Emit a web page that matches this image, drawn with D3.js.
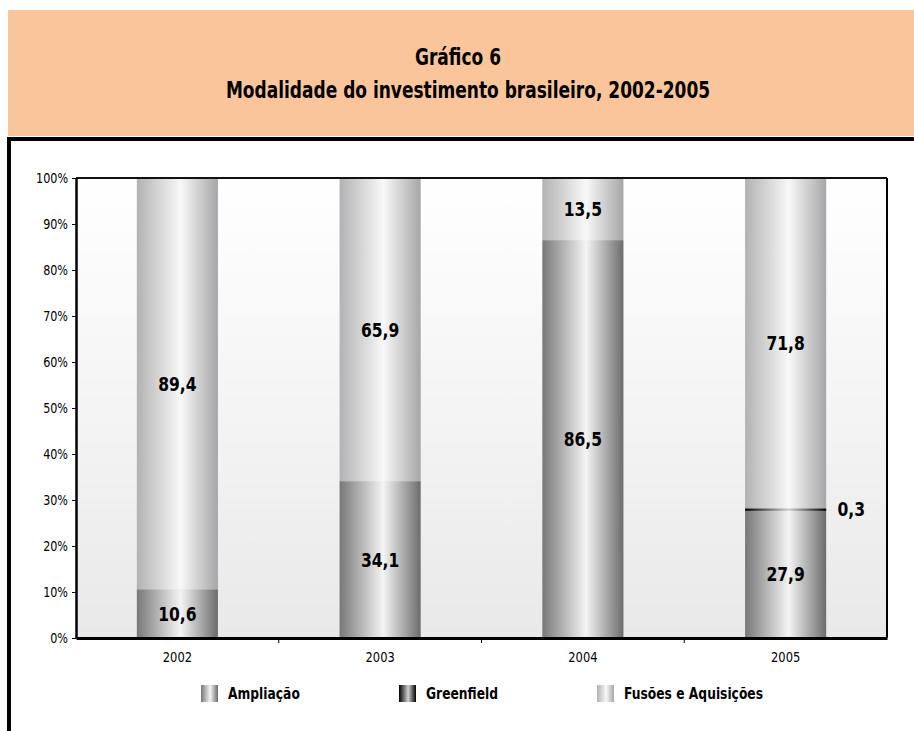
<!DOCTYPE html>
<html>
<head>
<meta charset="utf-8">
<script src="https://cdn.jsdelivr.net/npm/d3@7"></script>
<style>
  body { margin: 0; background: #fff; }
  svg { display: block; font-family: "DejaVu Sans", sans-serif; }
</style>
</head>
<body>
<div id="chart"></div>
<script>
// data
var years = ["2002", "2003", "2004", "2005"];
var seriesNames = ["Ampliação", "Greenfield", "Fusões e Aquisições"];
var ampliacao = [10.6, 34.1, 86.5, 27.9];
var greenfield = [0, 0, 0, 0.3];
var fusoes = [89.4, 65.9, 13.5, 71.8];
var yTicks = [0, 10, 20, 30, 40, 50, 60, 70, 80, 90, 100];

var W = 914, H = 731;
var margin = { top: 178, right: 27, bottom: 93, left: 76 },
    width = W - margin.left - margin.right,
    height = H - margin.top - margin.bottom;

var svg = d3.select("#chart").append("svg")
    .attr("width", W)
    .attr("height", H);

// narrow text: the original uses a condensed face, so squeeze horizontally
function narrowText(parent, px, py, sx, size, txt, anchor) {
    return parent.append("text")
        .attr("transform", "translate(" + px + "," + py + ") scale(" + sx + ",1)")
        .attr("text-anchor", anchor || "middle")
        .style("font-size", size + "px")
        .style("font-weight", "bold")
        .text(txt);
}

var defs = svg.append("defs");

// horizontal "cylinder" gradients for the bars
function barGradient(id, edgeL, mid, edgeR) {
    var g = defs.append("linearGradient").attr("id", id)
        .attr("x1", "0%").attr("x2", "100%").attr("y1", "0%").attr("y2", "0%");
    g.append("stop").attr("offset", "0%").attr("stop-color", edgeL);
    g.append("stop").attr("offset", "54%").attr("stop-color", mid);
    g.append("stop").attr("offset", "100%").attr("stop-color", edgeR);
}
barGradient("g-amp", "#787878", "#f4f4f4", "#6c6c6c");
barGradient("g-green", "#000000", "#d0d0d0", "#000000");
barGradient("g-fus", "#b2b2b4", "#f8f8f8", "#a6a6a8");
var fills = ["url(#g-amp)", "url(#g-green)", "url(#g-fus)"];

var bg = defs.append("linearGradient").attr("id", "g-bg")
    .attr("x1", "0%").attr("x2", "0%").attr("y1", "0%").attr("y2", "100%");
bg.append("stop").attr("offset", "0%").attr("stop-color", "#ffffff");
bg.append("stop").attr("offset", "100%").attr("stop-color", "#e9e9e9");

// header box
svg.append("rect")
    .attr("x", 8).attr("y", 10)
    .attr("width", W - 8).attr("height", 126)
    .attr("fill", "#fbc59b");

narrowText(svg, 458, 65, 0.74, 23, "Gráfico 6");
narrowText(svg, 468, 98, 0.74, 23, "Modalidade do investimento brasileiro, 2002-2005");

// black frame lines of the panel
svg.append("line")
    .attr("x1", 7).attr("x2", W).attr("y1", 139).attr("y2", 139)
    .attr("stroke", "#000").attr("stroke-width", 4);
svg.append("line")
    .attr("x1", 9).attr("x2", 9).attr("y1", 137).attr("y2", H)
    .attr("stroke", "#000").attr("stroke-width", 4);

var g = svg.append("g")
    .attr("transform", "translate(" + margin.left + "," + margin.top + ")");

// scales
var x = d3.scaleBand()
    .domain(years)
    .range([0, width])
    .paddingInner(0.6)
    .paddingOuter(0.3);

var y = d3.scaleLinear()
    .domain([0, 100])
    .range([height, 0]);

// plot background
g.append("rect")
    .attr("width", width).attr("height", height)
    .attr("fill", "url(#g-bg)");

// stacked data
var table = years.map(function (yr, i) {
    return { year: yr, s0: ampliacao[i], s1: greenfield[i], s2: fusoes[i] };
});
var stack = d3.stack().keys(["s0", "s1", "s2"]);
var layers = stack(table);

var layer = g.selectAll(".layer")
    .data(layers)
    .enter().append("g")
    .attr("class", "layer")
    .attr("fill", function (d, i) { return fills[i]; });

layer.selectAll("rect")
    .data(function (d) { return d; })
    .enter().append("rect")
    .attr("x", function (d) { return x(d.data.year); })
    .attr("width", x.bandwidth())
    .attr("y", function (d) { return y(d[1]); })
    .attr("height", function (d) { return Math.max(y(d[0]) - y(d[1]), d[1] - d[0] > 0 ? 2.5 : 0); });

// value labels
layers.forEach(function (ly) {
    ly.forEach(function (d) {
        var v = d[1] - d[0];
        if (v <= 0) return;
        var small = v < 2;
        var lx = small ? x(d.data.year) + x.bandwidth() + 25 : x(d.data.year) + x.bandwidth() / 2;
        narrowText(g, lx, y((d[0] + d[1]) / 2) + 7, 0.82, 19, d3.format(".1f")(v).replace(".", ","));
    });
});

// frame of plot area (top & right)
g.append("line")
    .attr("x1", 0).attr("x2", width).attr("y1", 0).attr("y2", 0)
    .attr("stroke", "#111").attr("stroke-width", 2);
g.append("line")
    .attr("x1", width).attr("x2", width).attr("y1", 0).attr("y2", height)
    .attr("stroke", "#000").attr("stroke-width", 2);

// y axis
var yAxis = g.append("g")
    .call(d3.axisLeft(y).tickValues(yTicks).tickSize(4).tickSizeOuter(0)
        .tickFormat(function (d) { return d + "%"; }));
yAxis.select(".domain").attr("stroke", "#000").attr("stroke-width", 2.5);
yAxis.selectAll("text")
    .attr("x", -8 / 0.8)
    .attr("transform", "scale(0.8,1)")
    .style("font-family", "'DejaVu Sans', sans-serif")
    .style("font-size", "14px")
    .attr("fill", "#000");

// x axis (ticks between categories)
var xAxis = g.append("g")
    .attr("transform", "translate(0," + height + ")")
    .call(d3.axisBottom(x).tickSize(0).tickSizeOuter(0));
xAxis.select(".domain").attr("stroke", "#000").attr("stroke-width", 3);
xAxis.selectAll("text")
    .attr("y", 14)
    .attr("transform", "scale(0.82,1)")
    .style("font-family", "'DejaVu Sans', sans-serif")
    .style("font-size", "14px")
    .attr("fill", "#000");
var step = x.step();
xAxis.selectAll(".sep")
    .data(years.slice(1))
    .enter().append("line")
    .attr("x1", function (d) { return x(d) - (step - x.bandwidth()) / 2; })
    .attr("x2", function (d) { return x(d) - (step - x.bandwidth()) / 2; })
    .attr("y1", 0).attr("y2", 5)
    .attr("stroke", "#000");

// legend
var legendX = [201, 399, 597];
var legend = svg.selectAll(".legend")
    .data(seriesNames)
    .enter().append("g")
    .attr("class", "legend")
    .attr("transform", function (d, i) { return "translate(" + legendX[i] + ",685)"; });
legend.append("rect")
    .attr("width", 17).attr("height", 17)
    .attr("fill", function (d, i) { return fills[i]; });
legend.each(function (d) {
    narrowText(d3.select(this), 27, 14, 0.82, 15, d, "start");
});
</script>
</body>
</html>
